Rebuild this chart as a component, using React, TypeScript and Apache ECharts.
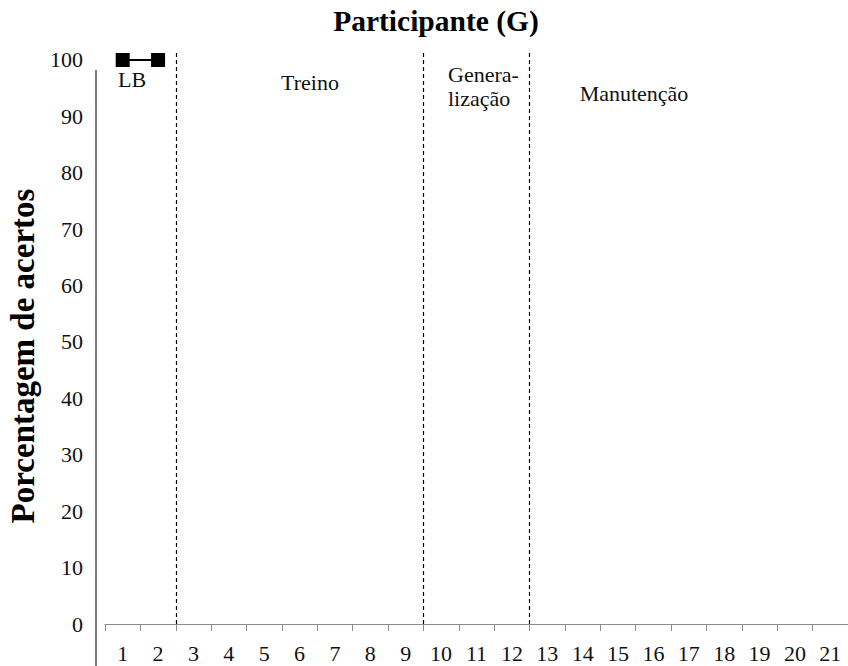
import React, { useEffect, useRef } from "react";
import * as echarts from "echarts";

const categories = ["1","2","3","4","5","6","7","8","9","10","11","12","13","14","15","16","17","18","19","20","21"];
const scores: (number | null)[] = [100, 100];
const phaseBoundaries = [2, 9, 12];
const phaseNames = ["LB", "Treino", "Genera-\nlização", "Manutenção"];
const yMin = 0;
const yMaxLabel = 100;
const yInterval = 10;
const chartTitle = "Participante (G)";
const yTitle = "Porcentagem de acertos";

const FONT = "'Liberation Serif', 'Times New Roman', serif";

// layout only (pixel positions of annotation texts)
const phaseLayout = [
  { x: 132, y: 79, align: "center" },
  { x: 310, y: 82, align: "center" },
  { x: 448, y: 86, align: "left" },
  { x: 634, y: 93, align: "center" },
];

export default function App() {
  const ref = useRef<HTMLDivElement>(null);
  useEffect(() => {
    if (!ref.current) return;
    const chart = echarts.init(ref.current, null, { renderer: "svg" });
    const option: any = {
      animation: false,
      backgroundColor: "#ffffff",
      title: {
        text: chartTitle,
        left: 431,
        textAlign: "center",
        top: 1,
        textStyle: { fontFamily: FONT, fontSize: 29.5, fontWeight: "bold", color: "#000" },
      },
      grid: { left: 105, top: 53, width: 750, bottom: 42 },
      xAxis: [
        {
          type: "category",
          data: categories,
          boundaryGap: true,
          axisLine: { show: true, lineStyle: { color: "#8c8c8c", width: 1 } },
          axisTick: { show: true, length: 7, lineStyle: { color: "#8c8c8c" } },
          axisLabel: { interval: 0, margin: 18, fontFamily: FONT, fontSize: 22, color: "#111" },
          splitLine: { show: false },
        },
        { type: "value", min: 0, max: categories.length, show: false },
      ],
      yAxis: [
        {
          type: "value",
          min: yMin,
          max: yMaxLabel + 1.24,
          interval: yInterval,
          axisLine: { show: false },
          axisTick: { show: false },
          splitLine: { show: false },
          axisLabel: {
            margin: 22,
            fontFamily: FONT,
            fontSize: 22,
            color: "#111",
            formatter: (v: number) => (Math.abs(v % yInterval) < 1e-9 && v <= yMaxLabel ? String(v) : ""),
          },
        },
      ],
      graphic: [
        { type: "line", shape: { x1: 96, y1: 70, x2: 96, y2: 666 }, style: { stroke: "#7f7f7f", lineWidth: 2 }, silent: true },
        {
          type: "text",
          x: 23,
          y: 356,
          rotation: Math.PI / 2,
          style: { text: yTitle, fontFamily: FONT, fontSize: 33, fontWeight: "bold", fill: "#000", align: "center", verticalAlign: "middle" },
        },
        ...phaseNames.map((name, i) => ({
          type: "text",
          x: phaseLayout[i].x,
          y: phaseLayout[i].y,
          style: {
            text: name,
            fontFamily: FONT,
            fontSize: 22,
            lineHeight: 24,
            fill: "#111",
            align: phaseLayout[i].align,
            verticalAlign: "middle",
          },
        })),
      ],
      series: [
        {
          type: "line",
          data: scores,
          symbol: "rect",
          symbolSize: 14,
          itemStyle: { color: "#000" },
          lineStyle: { color: "#000", width: 2 },
          connectNulls: false,
        },
        {
          type: "line",
          xAxisIndex: 1,
          yAxisIndex: 0,
          data: [],
          markLine: {
            silent: true,
            symbol: ["none", "none"],
            label: { show: false },
            lineStyle: { color: "#000", width: 1.2, type: [4, 3] },
            data: phaseBoundaries.map((b) => ({ xAxis: b })),
          },
        },
      ],
    };
    chart.setOption(option);
    return () => chart.dispose();
  }, []);
  return <div ref={ref} style={{ position: "absolute", left: 0, top: 0, width: 848, height: 666 }} />;
}
